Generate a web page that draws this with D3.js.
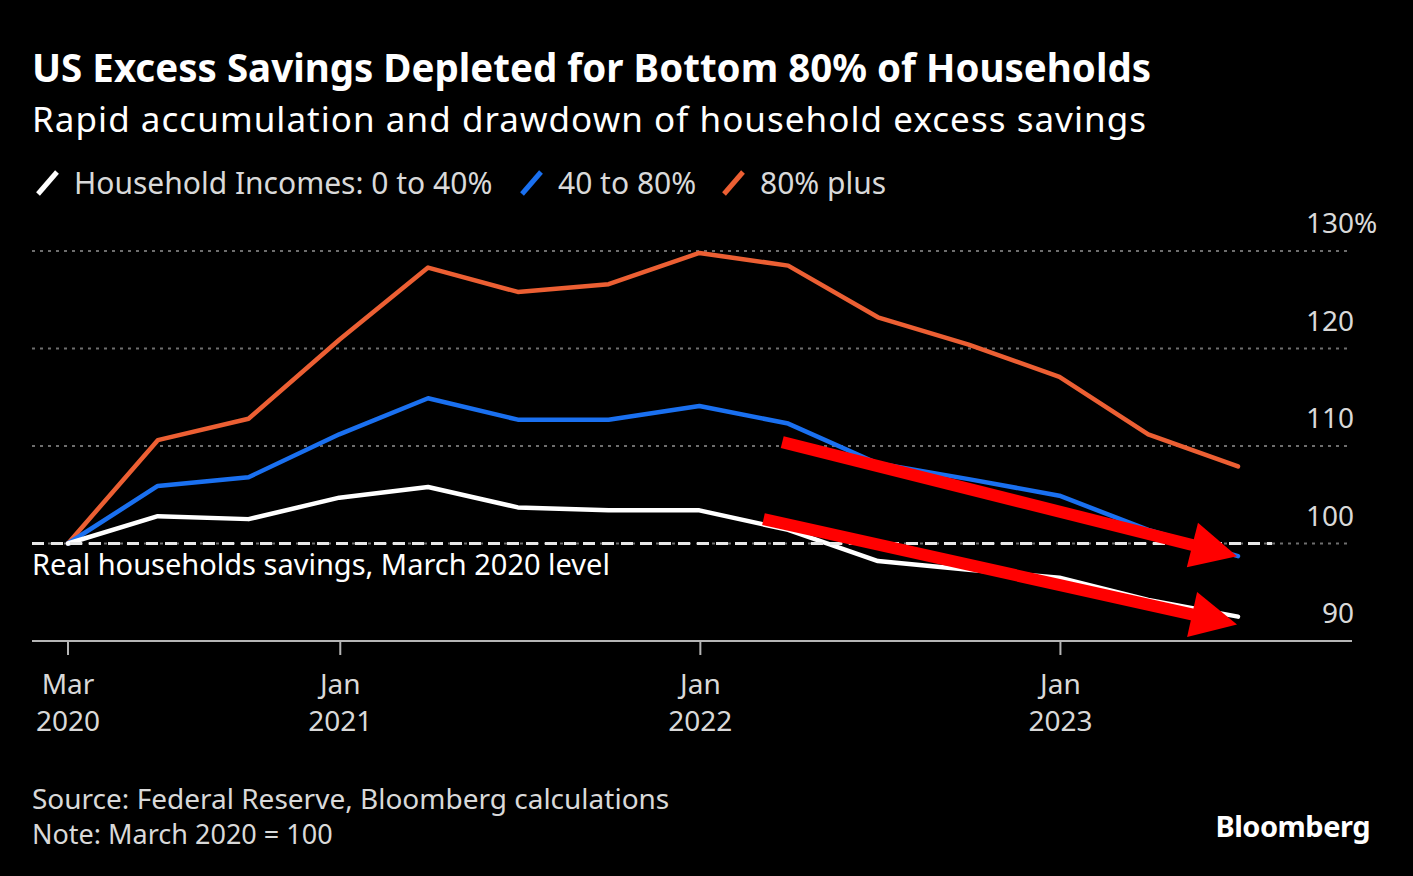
<!DOCTYPE html>
<html>
<head>
<meta charset="utf-8">
<script src="https://cdn.jsdelivr.net/npm/d3@7"></script>
<style>
  html, body { margin: 0; padding: 0; background: #000; }
  svg { display: block; }
  text { font-family: "Noto Sans", "Open Sans", sans-serif; }
</style>
</head>
<body>
<svg id="chart" width="1413" height="876"></svg>
<script>
/* Quarterly real excess savings index by income group, March 2020 = 100 */

const quarters = ['2020-03-31', '2020-06-30', '2020-09-30', '2020-12-31',
                  '2021-03-31', '2021-06-30', '2021-09-30', '2021-12-31',
                  '2022-03-31', '2022-06-30', '2022-09-30', '2022-12-31',
                  '2023-03-31', '2023-06-30'];
const bottom40 = [100, 102.8, 102.5, 104.7, 105.8, 103.7, 103.4, 103.4,
                  101.4, 98.2, 97.3, 96.5, 94.2, 92.5];
const middle40 = [100, 105.9, 106.8, 111.2, 114.9, 112.7, 112.7, 114.1,
                  112.3, 108.2, 106.6, 104.9, 101.4, 98.7];
const top20 = [100, 110.6, 112.8, 120.9, 128.3, 125.8, 126.6, 129.8,
               128.5, 123.2, 120.4, 117.1, 111.2, 107.9];

const seriesNames = ['Household Incomes: 0 to 40%', '40 to 80%', '80% plus'];
const yTicks = [90, 100, 110, 120, 130];
const xTicks = ['2020-03-31', '2021-01-01', '2022-01-01', '2023-01-01'];
const xTickLabels = [['Mar', '2020'], ['Jan', '2021'], ['Jan', '2022'], ['Jan', '2023']];

// red arrows someone drew on top of the chart: [start date, start value, end date, end value]
const arrowMarks = [
    ['2022-03-25', 110.4, '2023-06-29', 98.7],
    ['2022-03-06', 102.5, '2023-06-29', 91.7]
];

const colors = {
    bg: '#000',
    text: '#d9d9d9',
    grid: '#6e6e6e',
    axis: '#b5b5b5',
    series: ['#ffffff', '#1a70f0', '#ec5f33'],
    arrow: '#ff0000'
};

const parse = d3.utcParse('%Y-%m-%d');
const svg = d3.select('#chart');
svg.append('rect').attr('width', 1413).attr('height', 876).attr('fill', colors.bg);

const x = d3.scaleUtc()
    .domain([parse(quarters[0]), parse(quarters[quarters.length - 1])])
    .range([68, 1238]);
const y = d3.scaleLinear().domain([90, 130]).range([641, 251]);
const left = 32, right = 1352;

// titles
svg.append('text').attr('x', 32).attr('y', 82)
    .attr('fill', '#fff').attr('font-size', 38.5).attr('font-weight', 700)
    .text('US Excess Savings Depleted for Bottom 80% of Households');
svg.append('text').attr('x', 32).attr('y', 132)
    .attr('fill', '#fff').attr('font-size', 35)
    .attr('textLength', 1114).attr('lengthAdjust', 'spacing')
    .text('Rapid accumulation and drawdown of household excess savings');

// legend
const legendX = [36, 520, 722];
seriesNames.forEach((name, i) => {
    let g = svg.append('g').attr('transform', `translate(${legendX[i]},0)`);
    g.append('line')
        .attr('x1', 2).attr('y1', 194).attr('x2', 21).attr('y2', 172)
        .attr('stroke', colors.series[i]).attr('stroke-width', 5);
    g.append('text').attr('x', 38).attr('y', 194)
        .attr('fill', colors.text).attr('font-size', 30)
        .text(name);
});

// grid + y labels
svg.append('g').selectAll('line')
    .data(yTicks.filter(d => d > 90))
    .join('line')
    .attr('x1', left).attr('x2', right)
    .attr('y1', d => y(d)).attr('y2', d => y(d))
    .attr('stroke', colors.grid).attr('stroke-width', 2)
    .attr('stroke-dasharray', '3,5');

svg.append('g').selectAll('text')
    .data(yTicks)
    .join('text')
    .attr('x', 1354)
    .attr('y', d => y(d) - 18)
    .attr('text-anchor', 'end')
    .attr('fill', colors.text).attr('font-size', 28)
    .text(d => d);
// the % on the top label hangs past the column
svg.append('text').attr('x', 1354).attr('y', y(130) - 18)
    .attr('fill', colors.text).attr('font-size', 28).text('%');

// x axis
svg.append('line')
    .attr('x1', left).attr('x2', right).attr('y1', y(90)).attr('y2', y(90))
    .attr('stroke', colors.axis).attr('stroke-width', 2);
const xt = svg.append('g').selectAll('g')
    .data(xTicks)
    .join('g')
    .attr('transform', (d) => `translate(${x(parse(d))},0)`);
xt.append('line').attr('y1', y(90)).attr('y2', y(90) + 14)
    .attr('stroke', colors.axis).attr('stroke-width', 2);
xt.append('text').attr('y', 694).attr('text-anchor', 'middle')
    .attr('fill', colors.text).attr('font-size', 28)
    .text((d, i) => xTickLabels[i][0]);
xt.append('text').attr('y', 731).attr('text-anchor', 'middle')
    .attr('fill', colors.text).attr('font-size', 28)
    .text((d, i) => xTickLabels[i][1]);

// lines
const line = d3.line()
    .x((d, i) => x(parse(quarters[i])))
    .y(d => y(d));
const allSeries = [bottom40, middle40, top20];
[2, 1, 0].forEach((idx) => {
    svg.append('path')
        .datum(allSeries[idx])
        .attr('d', line)
        .attr('fill', 'none')
        .attr('stroke', colors.series[idx])
        .attr('stroke-width', 4.5)
        .attr('stroke-linejoin', 'round')
        .attr('stroke-linecap', 'round');
});

// March 2020 reference level
svg.append('line')
    .attr('x1', left).attr('x2', 1272).attr('y1', y(100)).attr('y2', y(100))
    .attr('stroke', '#e8e8e8').attr('stroke-width', 3)
    .attr('stroke-dasharray', '12,7');
svg.append('text').attr('x', 32).attr('y', 575)
    .attr('fill', '#fff').attr('font-size', 29)
    .text('Real households savings, March 2020 level');

// red arrows
const SHAFT = 12, HEAD_LEN = 46, HEAD_HALF = 23;
arrowMarks.forEach(([d0, v0, d1, v1]) => {
    let x0 = x(parse(d0)), y0 = y(v0), x1 = x(parse(d1)), y1 = y(v1);
    let len = Math.hypot(x1 - x0, y1 - y0);
    let ux = (x1 - x0) / len, uy = (y1 - y0) / len;
    let nx = -uy, ny = ux;
    let bx = x1 - ux * HEAD_LEN, by = y1 - uy * HEAD_LEN;
    svg.append('line')
        .attr('x1', x0).attr('y1', y0).attr('x2', bx + ux * 2).attr('y2', by + uy * 2)
        .attr('stroke', colors.arrow).attr('stroke-width', SHAFT);
    svg.append('polygon')
        .attr('points', [[x1, y1],
                         [bx + nx * HEAD_HALF, by + ny * HEAD_HALF],
                         [bx - nx * HEAD_HALF, by - ny * HEAD_HALF]].join(' '))
        .attr('fill', colors.arrow);
});

// footer
svg.append('text').attr('x', 32).attr('y', 809)
    .attr('fill', colors.text).attr('font-size', 28)
    .text('Source: Federal Reserve, Bloomberg calculations');
svg.append('text').attr('x', 32).attr('y', 844)
    .attr('fill', colors.text).attr('font-size', 27)
    .text('Note: March 2020 = 100');
svg.append('text').attr('x', 1370).attr('y', 837)
    .attr('text-anchor', 'end')
    .attr('fill', '#fff').attr('font-size', 29).attr('font-weight', 700)
    .attr('letter-spacing', -0.5)
    .text('Bloomberg');
</script>
</body>
</html>
